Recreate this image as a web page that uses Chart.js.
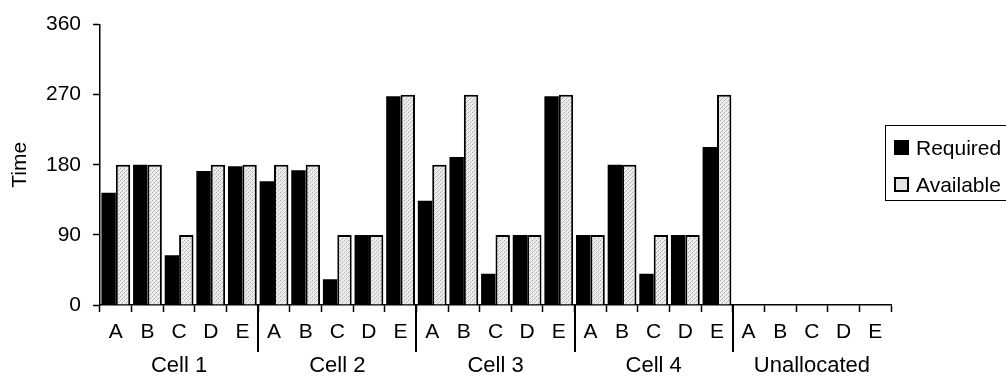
<!DOCTYPE html>
<html>
<head>
<meta charset="utf-8">
<script src="https://cdn.jsdelivr.net/npm/chart.js@4.4.1/dist/chart.umd.min.js"></script>
<style>
  html, body { margin: 0; padding: 0; background: #fff; overflow: hidden; }
  #wrap { position: relative; width: 1006px; height: 382px; }
  #legend { position: absolute; left: 885px; top: 125px; width: 140px; height: 76px;
            border: 1px solid #000; box-sizing: border-box; font-family: 'Liberation Sans', Arial, sans-serif;
            font-size: 21px; color: #000; }
  .row { position: absolute; left: 8px; height: 24px; line-height: 24px; white-space: nowrap; }
  .sw { position: absolute; left: 0; top: 4px; width: 15px; height: 15px; box-sizing: border-box; }
  .lbl { position: absolute; left: 22px; top: 0; }
</style>
</head>
<body>
<div id="wrap">
  <canvas id="c" width="1006" height="382"></canvas>
  <div id="legend">
    <div class="row" style="top:10px"><div class="sw" style="background:#000"></div><span class="lbl">Required</span></div>
    <div class="row" style="top:47px"><div class="sw" id="sw2" style="background:#e4e4e4;border:2px solid #000"></div><span class="lbl">Available</span></div>
  </div>
</div>
<script>
const groups = ['Cell 1', 'Cell 2', 'Cell 3', 'Cell 4', 'Unallocated'];
const letters = ['A', 'B', 'C', 'D', 'E'];
const required  = [144, 180, 64, 172, 178,  159, 173, 33, 90, 268,  134, 190, 40, 90, 268,  90, 180, 40, 90, 203,  0, 0, 0, 0, 0];
const available = [180, 180, 90, 180, 180,  180, 180, 90, 90, 270,  180, 270, 90, 90, 270,  90, 180, 90, 90, 270,  0, 0, 0, 0, 0];
const yTicks = [0, 90, 180, 270, 360];

const labels = [];
groups.forEach(() => letters.forEach(l => labels.push(l)));

// dotted light-grey fill
const pc = document.createElement('canvas');
pc.width = 4; pc.height = 4;
const pctx = pc.getContext('2d');
pctx.fillStyle = '#ececec'; pctx.fillRect(0, 0, 4, 4);
pctx.fillStyle = '#a8a8a8';
pctx.fillRect(0, 0, 1, 1); pctx.fillRect(2, 2, 1, 1);
pctx.fillStyle = '#d0d0d0';
pctx.fillRect(1, 3, 1, 1); pctx.fillRect(3, 1, 1, 1);
const pattern = pctx.createPattern(pc, 'repeat');

const FONT = { family: "'Liberation Sans', Arial, sans-serif", size: 21 };
const GFONT = { family: "'Liberation Sans', Arial, sans-serif", size: 22 };

const separators = {
  id: 'separators',
  afterDraw(chart) {
    const x = chart.scales.x;
    const ctx = chart.ctx;
    const bottom = chart.chartArea.bottom;
    ctx.save();
    ctx.strokeStyle = '#000';
    ctx.lineWidth = 2;
    for (let g = 1; g < groups.length; g++) {
      const i = g * letters.length;
      const px = Math.round((x.getPixelForValue(i - 1) + x.getPixelForValue(i)) / 2);
      ctx.beginPath();
      ctx.moveTo(px, bottom);
      ctx.lineTo(px, bottom + 47);
      ctx.stroke();
    }
    ctx.restore();
  }
};

new Chart(document.getElementById('c'), {
  type: 'bar',
  data: {
    labels: labels,
    datasets: [
      { label: 'Required', data: required, backgroundColor: '#000', borderWidth: 0 },
      { label: 'Available', data: available, backgroundColor: pattern, borderColor: '#000',
        borderWidth: ctx => (ctx.raw ? 2 : 0) }
    ]
  },
  options: {
    responsive: false,
    animation: false,
    devicePixelRatio: 1,
    layout: { padding: { left: 0, right: 115, top: 21, bottom: 0 } },
    datasets: { bar: { categoryPercentage: 0.91, barPercentage: 1.0 } },
    plugins: { legend: { display: false }, tooltip: { enabled: false } },
    scales: {
      y: {
        min: 0, max: 360,
        afterBuildTicks: s => { s.ticks = yTicks.map(v => ({ value: v })); },
        afterFit: s => { s.width = 100; },
        grid: { drawOnChartArea: false, color: '#000', tickLength: 7, tickWidth: 1.5 },
        border: { color: '#000', width: 1.5 },
        ticks: { color: '#000', font: FONT, padding: 12 },
        title: { display: true, text: 'Time', color: '#000', font: FONT, padding: { top: 8, bottom: 0 } }
      },
      x: {
        position: 'bottom',
        afterFit: s => { s.height = 40; },
        grid: { drawOnChartArea: false, offset: true, color: '#000', tickLength: 7, tickWidth: 1.5 },
        border: { color: '#000', width: 1.5 },
        ticks: { color: '#000', font: FONT, padding: 8, maxRotation: 0, autoSkip: false }
      },
      x2: {
        type: 'category',
        labels: groups,
        position: 'bottom',
        afterFit: s => { s.height = 37; },
        grid: { display: false, drawTicks: false },
        border: { display: false },
        ticks: { color: '#000', font: GFONT, padding: 8, maxRotation: 0, autoSkip: false }
      }
    }
  },
  plugins: [separators]
});
</script>
</body>
</html>
